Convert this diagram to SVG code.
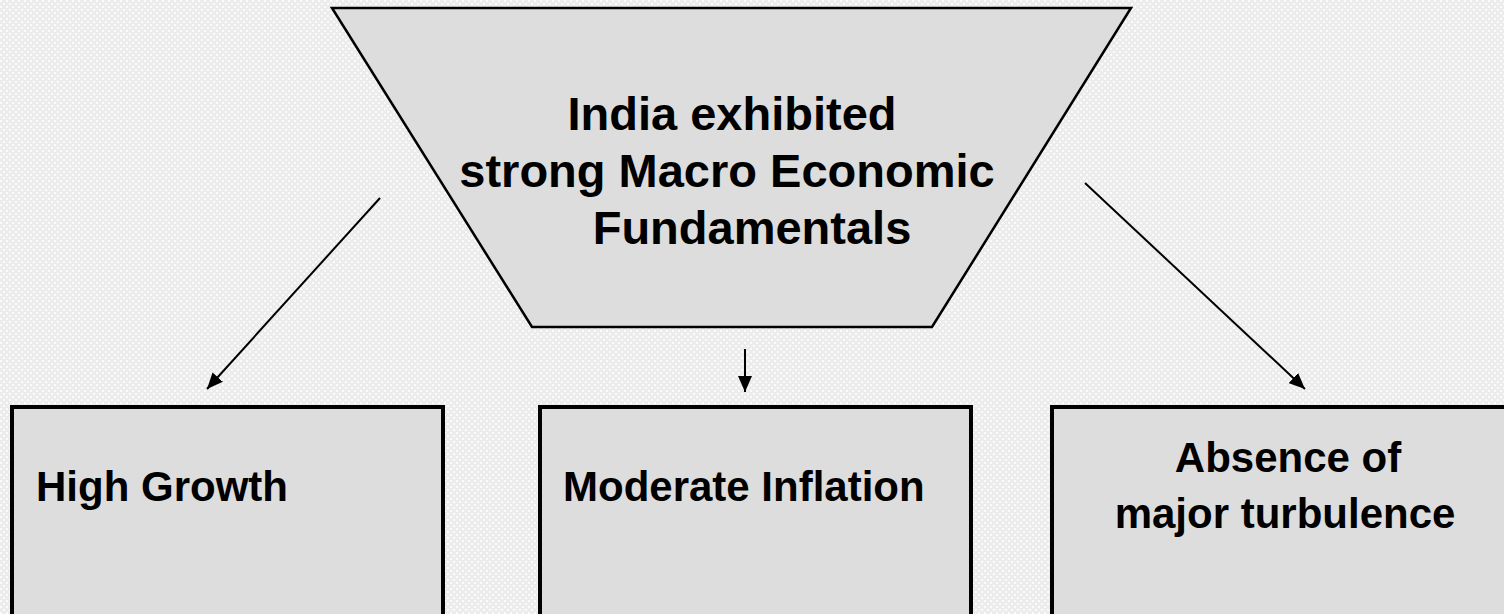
<svg xmlns="http://www.w3.org/2000/svg" width="1504" height="614" viewBox="0 0 1504 614">
<defs>
<pattern id="bg" width="6" height="6" patternUnits="userSpaceOnUse">
<rect width="6" height="6" fill="#ececec"/>
<rect x="0" y="0" width="2" height="2" fill="#fbfbfb"/>
<rect x="3" y="3" width="2" height="2" fill="#fbfbfb"/>
</pattern>
<marker id="ah" viewBox="0 0 16 14" refX="16" refY="7" markerWidth="16" markerHeight="14" markerUnits="userSpaceOnUse" orient="auto">
<path d="M0,0 L16,7 L0,14 z" fill="#000"/>
</marker>
<style>
.trap{fill:#dddddd;stroke:#000;stroke-width:2.5}
.box{fill:#dddddd;stroke:#000;stroke-width:4}
.t{font-family:"Liberation Sans",Arial,sans-serif;font-weight:bold;fill:#000}
.big{font-size:47px}
.med{font-size:42px}
.c{stroke:#000;stroke-width:2;fill:none;marker-end:url(#ah)}
</style>
</defs>
<rect width="1504" height="614" fill="url(#bg)"/>
<g id="top">
<polygon class="trap" points="332,8 1131,8 932,327 532,327"/>
<text class="t big" text-anchor="middle" x="732" y="130">India exhibited</text>
<text class="t big" text-anchor="middle" x="727" y="187">strong Macro Economic</text>
<text class="t big" text-anchor="middle" x="752" y="244">Fundamentals</text>
</g>
<g id="high-growth">
<rect class="box" x="12" y="407" width="431" height="220"/>
<text class="t med" x="36" y="501">High Growth</text>
</g>
<g id="moderate-inflation">
<rect class="box" x="540" y="407" width="431" height="220"/>
<text class="t med" x="563" y="501">Moderate Inflation</text>
</g>
<g id="absence">
<rect class="box" x="1052" y="407" width="470" height="220"/>
<text class="t med" text-anchor="middle" x="1288" y="472">Absence of</text>
<text class="t med" text-anchor="middle" x="1285" y="528">major turbulence</text>
</g>
<g id="connectors">
<line class="c" x1="380" y1="198" x2="207" y2="389"/>
<line class="c" x1="745" y1="349" x2="745" y2="392"/>
<line class="c" x1="1085" y1="183" x2="1305" y2="389"/>
</g>
</svg>
